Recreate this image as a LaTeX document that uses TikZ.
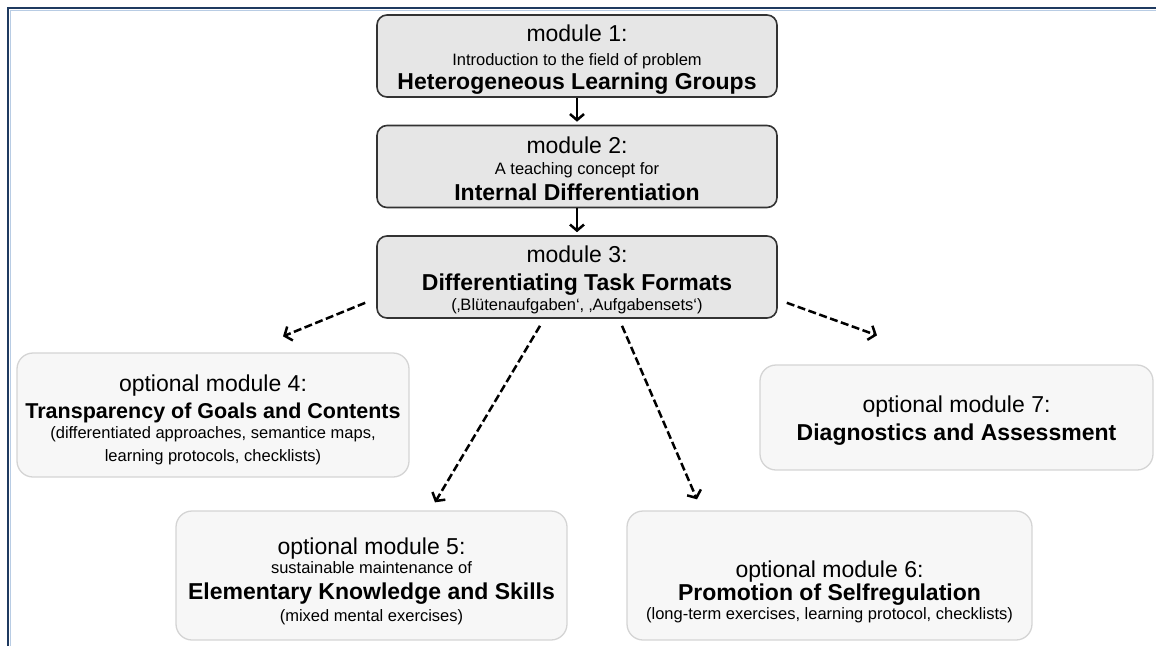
\documentclass[tikz,border=0pt]{standalone}
\usepackage{fontspec}
\setmainfont{Liberation Sans}
\usetikzlibrary{arrows.meta}

\definecolor{mainfill}{HTML}{E6E6E6}
\definecolor{optfill}{HTML}{F7F7F7}
\definecolor{optline}{HTML}{D4D4D4}
\definecolor{framedark}{HTML}{1F3A60}
\definecolor{framelight}{HTML}{B8CCE4}

\newcommand{\bigtxt}[1]{{\fontsize{23}{24}\selectfont #1}}
\newcommand{\smalltxt}[1]{{\fontsize{16.5}{24}\selectfont #1}}
\newcommand{\titletxt}[1]{{\fontsize{23}{24}\selectfont\bfseries #1}}

\tikzset{
  mainbox/.style={draw=black!80, line width=1.6pt, fill=mainfill, rounded corners=10pt,
    minimum width=400pt, minimum height=82pt, inner sep=0pt},
  optbox/.style={draw=optline, line width=1.3pt, fill=optfill, rounded corners=16pt,
    inner sep=0pt},
  boxtext/.style={align=center, inner sep=0pt, font=\fontsize{23}{24}\selectfont},
  solidarr/.style={line width=2.5pt, -{Straight Barb[length=6pt,width=14pt]}, shorten >=3pt},
  dasharr/.style={line width=2.5pt, dash pattern=on 8pt off 3.5pt,
    -{Straight Barb[length=6pt,width=15pt]}}
}

\begin{document}
\begin{tikzpicture}[x=1pt, y=-1pt]
  \useasboundingbox (0,0) rectangle (1156,646);

  % frame
  \draw[framedark, line width=2pt] (8,646) -- (8,8) -- (1156,8);
  \draw[framelight, line width=0.8pt] (10.2,646) -- (10.2,10.2) -- (1156,10.2);

  % main modules
  \node[mainbox] (m1) at (577,56) {};
  \node[mainbox] (m2) at (577,166.5) {};
  \node[mainbox] (m3) at (577,277) {};
  \node[boxtext] (m1t) at ([yshift=-4pt]m1.center) {\bigtxt{module 1:}\\
    \smalltxt{Introduction to the field of problem}\\
    \titletxt{Heterogeneous Learning Groups}};
  \node[boxtext] (m2t) at ([yshift=-2pt]m2.center) {\bigtxt{module 2:}\\[-3pt]
    \smalltxt{A teaching concept for}\\[2pt]
    \titletxt{Internal Differentiation}};
  \node[boxtext] (m3t) at ([yshift=-3pt]m3.center) {\bigtxt{module 3:}\\[4pt]
    \titletxt{Differentiating Task Formats}\\[-4pt]
    \smalltxt{(‚Blütenaufgaben‘, ‚Aufgabensets‘)}};

  % optional modules
  \node[optbox, minimum width=392pt, minimum height=124pt] (o4) at (213,415) {};
  \node[optbox, minimum width=393pt, minimum height=105pt] (o7) at (956.5,417.5) {};
  \node[optbox, minimum width=391pt, minimum height=129pt] (o5) at (371.5,575.5) {};
  \node[optbox, minimum width=405pt, minimum height=129pt] (o6) at (829.5,575.5) {};

  \node[boxtext] (o4t) at ([yshift=-5pt]o4.center)
    {\bigtxt{optional module 4:}\\[3pt]
    {\fontsize{21.5}{24}\selectfont\bfseries Transparency of Goals and Contents}\\[-4pt]
    \smalltxt{(differentiated approaches, semantice maps,}\\[-1pt]
    \smalltxt{learning protocols, checklists)}};
  \node[boxtext] (o7t) at ([yshift=-3pt]o7.center)
    {\bigtxt{optional module 7:}\\[4pt]
    \titletxt{Diagnostics and Assessment}};
  \node[boxtext] (o5t) at ([yshift=-6pt]o5.center)
    {\bigtxt{optional module 5:}\\[-5pt]
    \smalltxt{sustainable maintenance of}\\[2pt]
    \titletxt{Elementary Knowledge and Skills}\\[-2pt]
    \smalltxt{(mixed mental exercises)}};
  \node[boxtext] (o6t) at ([yshift=-16pt]o6.center)
    {\bigtxt{optional module 6:}\\[-1pt]
    \titletxt{Promotion of Selfregulation}\\[-5pt]
    \smalltxt{(long-term exercises, learning protocol, checklists)}};

  % arrows
  \draw[solidarr] (m1) -- (m2);
  \draw[solidarr] (m2) -- (m3);

  \coordinate (d4a) at ([shift={(-11,-16)}]m3.south west);
  \coordinate (d4b) at ([shift={(70,-16)}]o4.north);
  \coordinate (d5a) at ([shift={(-37,7)}]m3.south);
  \coordinate (d5b) at ([shift={(63.5,-8)}]o5.north);
  \coordinate (d6a) at ([shift={(45,7)}]m3.south);
  \coordinate (d6b) at ([shift={(-132.5,-11)}]o6.north);
  \coordinate (d7a) at ([shift={(9,-16)}]m3.south east);
  \coordinate (d7b) at ([shift={(-79.5,-29)}]o7.north);

  \draw[dasharr] (d4a) -- (d4b);
  \draw[dasharr] (d5a) -- (d5b);
  \draw[dasharr] (d6a) -- (d6b);
  \draw[dasharr] (d7a) -- (d7b);
\end{tikzpicture}
\end{document}
